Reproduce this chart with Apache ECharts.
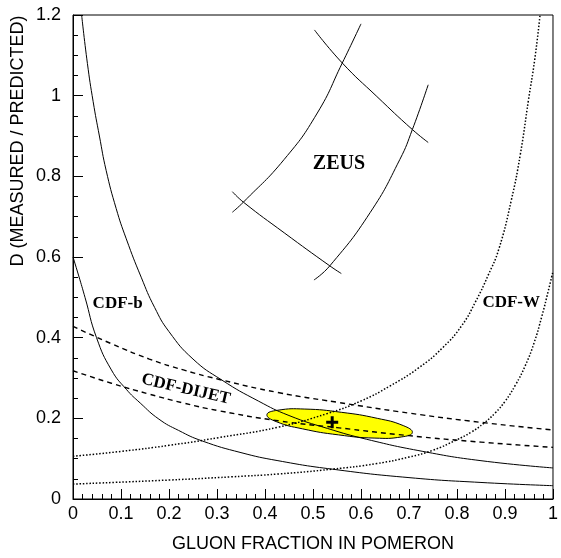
<!DOCTYPE html>
<html>
<head>
<meta charset="utf-8">
<script src="https://cdn.jsdelivr.net/npm/echarts@6/dist/echarts.min.js"></script>
<style>
html,body{margin:0;padding:0;background:#fff;}
#chart{width:561px;height:558px;}
</style>
</head>
<body>
<div id="chart"></div>
<script>
// curves, [gluon fraction, D]
const cdfBUpper = [[0.018,1.2],[0.03,1.08],[0.042,0.985],[0.055,0.9],[0.069,0.815],[0.09,0.72],[0.111,0.645],[0.142,0.55],[0.17,0.475],[0.2,0.415],[0.25,0.347],[0.31,0.295],[0.386,0.243],[0.45,0.207],[0.53,0.175],[0.612,0.148],[0.729,0.118],[0.85,0.095],[1,0.077]]
const cdfBLower = [[0,0.6],[0.014,0.545],[0.025,0.5],[0.049,0.4],[0.08,0.32],[0.111,0.272],[0.14,0.238],[0.179,0.198],[0.22,0.17],[0.269,0.144],[0.35,0.115],[0.427,0.095],[0.54,0.074],[0.7,0.053],[0.85,0.041],[1,0.033]]
const cdfWUpper = [[0,0.106],[0.1,0.118],[0.2,0.133],[0.303,0.152],[0.427,0.178],[0.53,0.212],[0.6,0.243],[0.66,0.28],[0.72,0.325],[0.77,0.375],[0.81,0.43],[0.839,0.49],[0.865,0.555],[0.887,0.619],[0.913,0.74],[0.932,0.855],[0.949,0.99],[0.962,1.09],[0.973,1.2]]
const cdfWLower = [[0,0.037],[0.2,0.047],[0.33,0.055],[0.427,0.062],[0.54,0.074],[0.633,0.088],[0.7,0.104],[0.75,0.121],[0.798,0.146],[0.83,0.166],[0.856,0.188],[0.88,0.214],[0.9,0.242],[0.922,0.283],[0.942,0.33],[0.96,0.385],[0.977,0.454],[0.99,0.515],[1,0.565]]
const dijetUpper = [[0,0.428],[0.08,0.385],[0.159,0.347],[0.23,0.32],[0.303,0.297],[0.427,0.264],[0.55,0.24],[0.7,0.213],[0.85,0.19],[1,0.171]]
const dijetLower = [[0,0.318],[0.08,0.287],[0.159,0.26],[0.23,0.238],[0.303,0.219],[0.427,0.194],[0.55,0.177],[0.7,0.157],[0.85,0.141],[1,0.128]]
const zeus1 = [[0.503,1.163],[0.561,1.081],[0.633,0.998],[0.707,0.916],[0.74,0.884]]
const zeus2 = [[0.332,0.762],[0.355,0.736],[0.44,0.66],[0.535,0.578],[0.559,0.559]]
const zeus3 = [[0.332,0.711],[0.355,0.736],[0.44,0.842],[0.509,0.957],[0.561,1.081],[0.6,1.178]]
const zeus4 = [[0.502,0.543],[0.535,0.578],[0.619,0.71],[0.681,0.842],[0.707,0.916],[0.74,1.027]]
// outline of the combined fit contour
const contour = [[0.707,0.165],[0.685,0.154],[0.629,0.151],[0.553,0.159],[0.478,0.174],[0.423,0.192],[0.404,0.209],[0.426,0.22],[0.483,0.223],[0.559,0.215],[0.634,0.2],[0.688,0.182]]
const bestFit = [[0.54,0.19]]
const curveLabels = [
  {name:'ZEUS', value:[0.554,0.832], size:20, rotate:0},
  {name:'CDF-b', value:[0.093,0.485], size:17, rotate:0},
  {name:'CDF-W', value:[0.913,0.486], size:17, rotate:0},
  {name:'CDF-DIJET', value:[0.235,0.272], size:17, rotate:-13}
]
const xTicks = [0,1,0.1]
const yTicks = [0,1.2,0.2]

const chart = echarts.init(document.getElementById('chart'))
const sans = 'Liberation Sans, Arial, sans-serif'

function curve(data, type, width){
  return {
    type:'line', data:data, showSymbol:false, smooth:0.5, silent:true,
    lineStyle:{color:'#000', width:width || 1, type:type || 'solid'},
    z:3
  }
}

const option = {
  animation:false,
  grid:{left:73, right:3, top:15, bottom:58, show:true, borderColor:'#000', borderWidth:1},
  xAxis:{
    type:'value', min:xTicks[0], max:xTicks[1], interval:xTicks[2],
    name:'GLUON FRACTION IN POMERON', nameLocation:'middle', nameGap:36,
    nameTextStyle:{fontFamily:sans, fontSize:18, color:'#000'},
    axisLine:{lineStyle:{color:'#000', width:1}},
    axisTick:{inside:true, length:10, lineStyle:{color:'#000'}},
    minorTick:{show:true, splitNumber:5, length:5, lineStyle:{color:'#000'}},
    splitLine:{show:false},
    axisLabel:{margin:6, fontFamily:sans, fontSize:18, color:'#000'}
  },
  yAxis:{
    type:'value', min:yTicks[0], max:yTicks[1], interval:yTicks[2],
    axisLine:{show:true, lineStyle:{color:'#000', width:1}},
    axisTick:{show:true, inside:true, length:10, lineStyle:{color:'#000'}},
    minorTick:{show:true, splitNumber:4, length:5, lineStyle:{color:'#000'}},
    splitLine:{show:false},
    axisLabel:{margin:12, fontFamily:sans, fontSize:18, color:'#000'}
  },
  graphic:[{
    type:'text', x:18, y:141, rotation:Math.PI/2,
    style:{text:'D (MEASURED / PREDICTED)', fontFamily:sans, fontSize:18, fill:'#000', align:'center', verticalAlign:'middle'}
  }],
  series:[
    {
      type:'custom', silent:true, z:2,
      data:[contour[0]],
      renderItem:function(params, api){
        const pts = contour.map(p => api.coord(p))
        return {type:'polygon', shape:{points:pts, smooth:0.5},
          style:{fill:'#ffff00', stroke:'#000', lineWidth:1}}
      }
    },
    curve(cdfBUpper),
    curve(cdfBLower),
    curve(cdfWUpper, [1.5,1.8], 1.5),
    curve(cdfWLower, [1.5,1.8], 1.5),
    curve(dijetUpper, [5,4], 1.4),
    curve(dijetLower, [5,4], 1.4),
    curve(zeus1), curve(zeus2), curve(zeus3), curve(zeus4),
    {
      type:'scatter', data:bestFit, silent:true, z:5,
      symbol:'path://M3.75,0H6.25V3.75H10V6.25H6.25V10H3.75V6.25H0V3.75H3.75Z',
      symbolSize:12, itemStyle:{color:'#000', opacity:1}
    },
    {
      type:'scatter', silent:true, z:6, symbolSize:0, itemStyle:{opacity:1},
      data:curveLabels.map(d => ({
        name:d.name, value:d.value,
        label:{show:true, position:'inside', formatter:d.name, rotate:d.rotate, opacity:1,
          fontFamily:'Liberation Serif, Times New Roman, serif', fontWeight:'bold', fontSize:d.size, color:'#000'}
      }))
    }
  ]
}
chart.setOption(option)
</script>
</body>
</html>
